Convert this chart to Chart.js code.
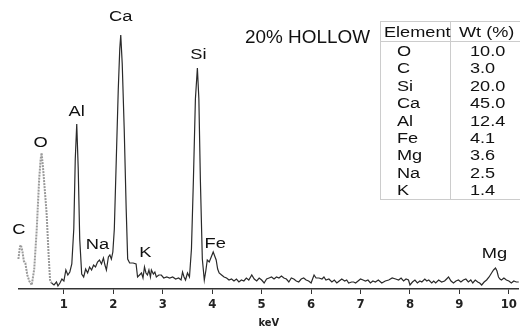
<!DOCTYPE html>
<html>
<head>
<meta charset="utf-8">
<script src="https://cdn.jsdelivr.net/npm/chart.js@4.4.1/dist/chart.umd.min.js"></script>
<style>
    html, body { margin: 0; padding: 0; background: #fff; overflow: hidden; }
    #wrap { position: relative; width: 520px; height: 330px; overflow: hidden; }
    #title {
        position: absolute; left: 245px; top: 27px;
        font: 18px 'Liberation Sans', Arial, sans-serif; color: #111;
        white-space: nowrap; transform: scaleX(1.05); transform-origin: left center;
    }
    #wt {
        position: absolute; left: 380px; top: 21px; width: 160px;
        table-layout: fixed; border-collapse: collapse;
        font: 15.5px 'Liberation Sans', Arial, sans-serif; color: #111;
    }
    #wt td, #wt th { padding: 0; box-sizing: border-box; font-weight: normal; text-align: left; white-space: nowrap; overflow: visible; }
    #wt th { height: 19px; line-height: 19px; border-top: 1px solid #ccc; border-bottom: 1px solid #ccc; }
    #wt td { height: 17.4px; line-height: 17.4px; }
    #wt tr > :first-child { border-left: 1px solid #ccc; }
    #wt tr > :last-child { border-left: 1px solid #ccc; }
    #wt tr:last-child td { border-bottom: 1px solid #ccc; }
    #wt span { display: inline-block; transform: scaleX(1.17); transform-origin: left center; }
</style>
</head>
<body>
<div id="wrap">
    <canvas id="eds" width="520" height="330"></canvas>
    <div id="title">20% HOLLOW</div>
    <table id="wt">
        <colgroup><col style="width:70px"><col style="width:90px"></colgroup>
        <thead></thead><tbody></tbody>
    </table>
</div>
<script>
// 스펙트럼 데이터 (keV, counts) - 그림에서 읽은 값
const energyKeV = [
    0.00, 0.04, 0.08, 0.11, 0.13, 0.16, 0.19, 0.22, 0.26, 0.30, 0.35,
    0.40, 0.45, 0.50, 0.53, 0.55, 0.58, 0.62, 0.65, 0.69, 0.72, 0.75,
    0.80, 0.85, 0.88, 0.92, 0.96, 1.00, 1.04, 1.08, 1.12, 1.16, 1.20, 1.23, 1.26, 1.29, 1.32, 1.36,
    1.40, 1.44, 1.48, 1.52, 1.56, 1.60, 1.64, 1.68, 1.72, 1.76, 1.80, 1.83, 1.86, 1.90, 1.93, 1.96, 1.99,
    2.02, 2.06, 2.10, 2.13, 2.15, 2.18, 2.22, 2.26, 2.29, 2.33, 2.40, 2.46, 2.49, 2.53, 2.57, 2.60,
    2.63, 2.66, 2.69, 2.72, 2.75, 2.77, 2.81, 2.84, 2.87, 2.92, 2.97, 3.02, 3.08, 3.14, 3.20, 3.26,
    3.32, 3.37, 3.40, 3.43, 3.46, 3.50, 3.54, 3.58, 3.62, 3.66, 3.70, 3.73, 3.76, 3.80, 3.84, 3.87,
    3.90, 3.94, 3.98, 4.02, 4.05, 4.08, 4.11, 4.14, 4.19, 4.24, 4.29, 4.34, 4.39, 4.44, 4.49, 4.54,
    4.59, 4.64, 4.69, 4.74, 4.80, 4.85, 4.90, 4.95, 5.00, 5.05, 5.10, 5.15, 5.20, 5.25, 5.30, 5.35,
    5.40, 5.45, 5.50, 5.55, 5.60, 5.65, 5.70, 5.75, 5.80, 5.85, 5.90, 5.95, 6.00, 6.03, 6.06, 6.10,
    6.16, 6.22, 6.26, 6.30, 6.36, 6.42, 6.47, 6.52, 6.57, 6.62, 6.68, 6.72, 6.76, 6.82, 6.86, 6.90,
    6.95, 7.00, 7.05, 7.10, 7.15, 7.20, 7.25, 7.30, 7.36, 7.43, 7.50, 7.57, 7.64, 7.71, 7.77, 7.82,
    7.87, 7.92, 7.97, 8.00, 8.05, 8.10, 8.15, 8.20, 8.24, 8.30, 8.34, 8.38, 8.44, 8.48, 8.52, 8.58,
    8.64, 8.70, 8.74, 8.78, 8.83, 8.88, 8.93, 8.98, 9.03, 9.08, 9.13, 9.18, 9.23, 9.27, 9.32, 9.37,
    9.41, 9.45, 9.50, 9.55, 9.60, 9.65, 9.69, 9.73, 9.76, 9.79, 9.82, 9.85, 9.90, 9.95, 10.00, 10.05,
    10.10, 10.15, 10.20
];
const counts = [
    6, 14, 30, 42, 44, 38, 28, 26, 14, 8, 4,
    20, 59, 110, 130, 136, 120, 95, 76, 35, 9, 6,
    4, 7, 3, 6, 10, 8, 19, 14, 17, 25, 60, 130, 165, 120, 50, 15,
    12, 20, 16, 22, 19, 24, 22, 27, 29, 25, 31, 24, 19, 32, 34, 30, 37,
    60, 130, 200, 240, 254, 225, 160, 80, 30, 26, 26, 25, 12, 14, 16, 11,
    22, 16, 14, 19, 12, 19, 15, 17, 12, 14, 14, 11, 12, 11, 12, 10,
    11, 9, 17, 12, 9, 16, 12, 40, 110, 190, 221, 190, 110, 30, 9, 18,
    29, 27, 32, 37, 33, 29, 20, 16, 14, 12, 11, 9, 10, 8, 10, 7,
    9, 8, 11, 9, 14, 10, 8, 11, 9, 6, 10, 11, 12, 10, 12, 11,
    13, 11, 10, 7, 11, 10, 8, 7, 10, 11, 9, 8, 6, 10, 14, 11,
    11, 10, 12, 9, 10, 7, 9, 6, 8, 10, 8, 9, 6, 7, 7, 6,
    8, 10, 9, 8, 9, 6, 8, 7, 9, 6, 8, 9, 11, 10, 9, 11,
    8, 10, 9, 4, 7, 9, 6, 8, 7, 10, 8, 9, 6, 8, 6, 9,
    7, 8, 10, 12, 8, 6, 8, 9, 7, 9, 10, 7, 9, 6, 9, 7,
    6, 4, 7, 9, 12, 16, 19, 21, 18, 12, 10, 9, 11, 9, 8, 6,
    8, 7, 7
];
const tickValues = [1, 2, 3, 4, 5, 6, 7, 8, 9, 10];
const peakNames = ['C', 'O', 'Al', 'Na', 'Ca', 'K', 'Si', 'Fe', 'Mg'];

// 조성 표
const tableElements = ['O', 'C', 'Si', 'Ca', 'Al', 'Fe', 'Mg', 'Na', 'K'];
const tableWt = ['10.0', '3.0', '20.0', '45.0', '12.4', '4.1', '3.6', '2.5', '1.4'];

document.addEventListener('DOMContentLoaded', function() {
    buildTable();
    createSpectrum('eds');
});

/**
 * 조성 표 생성
 */
function buildTable() {
    const table = document.getElementById('wt');
    table.querySelector('thead').innerHTML =
        '<tr><th style="padding-left:3px"><span>Element</span></th>' +
        '<th style="padding-left:8px"><span>Wt (%)</span></th></tr>';
    const body = table.querySelector('tbody');
    tableElements.forEach((el, i) => {
        const tr = document.createElement('tr');
        tr.innerHTML = `<td style="padding-left:16px"><span>${el}</span></td>` +
                       `<td style="padding-left:19px"><span>${tableWt[i]}</span></td>`;
        body.appendChild(tr);
    });
}

/**
 * 피크 라벨 플러그인
 */
const peakLabelPlugin = {
    id: 'peakLabels',
    afterDatasetsDraw(chart) {
        // 라벨 기준점 (keV, counts)
        const at = {
            C: [0.09, 59], O: [0.53, 146], Al: [1.26, 177], Na: [1.68, 44], Ca: [2.15, 272],
            K: [2.65, 36], Si: [3.72, 234], Fe: [4.06, 45], Mg: [9.71, 35]
        };
        const { ctx, scales } = chart;
        ctx.save();
        ctx.fillStyle = '#111';
        ctx.font = "15.5px 'Liberation Sans', Arial, sans-serif";
        ctx.textAlign = 'center';
        ctx.textBaseline = 'middle';
        peakNames.forEach(name => {
            const x = scales.x.getPixelForValue(at[name][0]);
            const y = scales.y.getPixelForValue(at[name][1]);
            ctx.save();
            ctx.translate(x, y);
            ctx.scale(1.18, 1);
            ctx.fillText(name, 0, 0);
            ctx.restore();
        });
        ctx.restore();
    }
};

/**
 * EDS 스펙트럼 차트
 */
function createSpectrum(canvasId) {
    const ctx = document.getElementById(canvasId);
    if (!ctx) return;

    const points = energyKeV.map((e, i) => ({ x: e, y: counts[i] }));
    const lowEnd = 0.75;

    new Chart(ctx, {
        type: 'line',
        data: {
            datasets: [{
                data: points,
                borderColor: '#2a2a2a',
                borderWidth: 1.2,
                pointRadius: 0,
                tension: 0,
                clip: false,
                segment: {
                    borderColor: c => c.p0.parsed.x < lowEnd ? '#9a9a9a' : '#2a2a2a',
                    borderDash: c => c.p0.parsed.x < lowEnd ? [2, 1] : [],
                    borderWidth: c => c.p0.parsed.x < lowEnd ? 2 : 1.2,
                }
            }]
        },
        options: {
            responsive: false,
            animation: false,
            layout: { padding: { left: 19, right: 0, top: 0, bottom: 0 } },
            scales: {
                x: {
                    type: 'linear',
                    min: 0.092,
                    max: 10.2,
                    afterBuildTicks: scale => { scale.ticks = tickValues.map(v => ({ value: v })); },
                    afterFit: scale => { scale.height = 41; },
                    border: { display: true, color: '#333', width: 1.5 },
                    grid: { drawOnChartArea: false, drawTicks: true, tickLength: 5, color: '#333', lineWidth: 1 },
                    ticks: {
                        padding: 3,
                        color: '#222',
                        maxRotation: 0,
                        autoSkip: false,
                        font: { size: 13, weight: 'bold', family: "'Liberation Sans Narrow', 'DejaVu Sans Condensed', sans-serif" }
                    },
                    title: {
                        display: true,
                        text: 'keV',
                        color: '#222',
                        padding: 0,
                        font: { size: 11, weight: 'bold', family: "'Liberation Sans Narrow', 'DejaVu Sans Condensed', sans-serif" }
                    }
                },
                y: {
                    display: false,
                    min: 0,
                    max: 289
                }
            },
            plugins: {
                legend: { display: false },
                tooltip: { enabled: false }
            }
        },
        plugins: [peakLabelPlugin]
    });
}
</script>
</body>
</html>
